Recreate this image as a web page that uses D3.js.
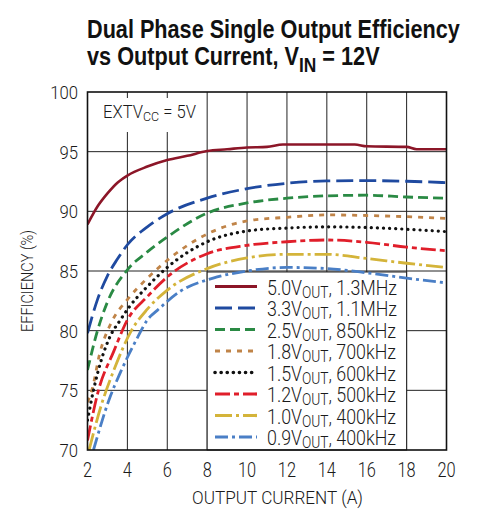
<!DOCTYPE html>
<html>
<head>
<meta charset="utf-8">
<script src="https://cdn.jsdelivr.net/npm/d3@7"></script>
<style>
  body { margin: 0; background: #fff; }
  svg { display: block; }
  text { font-family: Roboto, "Liberation Sans", Arial, sans-serif; fill: #1a1a1a; }
  text.title { font-family: "Liberation Sans", Arial, sans-serif; fill: #111; }
</style>
</head>
<body>
<svg id="chart" width="500" height="527"></svg>
<script>
/* global d3 */
// axis ticks
const xTicks = [2, 4, 6, 8, 10, 12, 14, 16, 18, 20]
const yTicks = [70, 75, 80, 85, 90, 95, 100]

// legend text
const legendVolts = ['5.0', '3.3', '2.5', '1.8', '1.5', '1.2', '1.0', '0.9']
const legendFreqs = ['1.3MHz', '1.1MHz', '850kHz', '700kHz', '600kHz', '500kHz', '400kHz', '400kHz']

// efficiency curves, [output current (A), efficiency (%)]
const eff5v0 = [[2, 88.9], [2.5, 90.4], [3, 91.5], [3.5, 92.4], [4, 93.0], [5, 93.75], [6, 94.3], [7, 94.65], [8, 95.05], [9, 95.2], [10, 95.35], [11, 95.4], [11.8, 95.6], [15.4, 95.6], [16, 95.45], [18, 95.4], [18.5, 95.2], [20, 95.2]]
const eff3v3 = [[2, 79.8], [2.5, 82.6], [3, 84.6], [3.5, 86.0], [4, 87.2], [5, 88.7], [6, 89.8], [8, 91.1], [10, 91.9], [12, 92.35], [14, 92.55], [16, 92.57], [18, 92.52], [20, 92.4]]
const eff2v5 = [[2, 76.7], [2.5, 80.0], [3, 82.4], [4, 85.1], [5, 86.6], [6, 87.85], [8, 89.85], [10, 90.7], [12, 91.1], [14, 91.3], [16, 91.35], [18, 91.2], [20, 91.1]]
const eff1v8 = [[2, 74.0], [2.25, 75.2], [2.6, 78.0], [3.2, 80.7], [4, 82.6], [5, 84.4], [6, 85.9], [8, 88.1], [10, 89.2], [12, 89.5], [14, 89.7], [16, 89.65], [18, 89.55], [20, 89.4]]
const eff1v5 = [[2, 72.5], [2.3, 75.0], [2.5, 76.4], [3.1, 79.4], [3.65, 80.9], [4.1, 82.0], [5, 83.7], [6, 85.3], [8, 87.45], [10, 88.35], [12, 88.6], [14, 88.7], [16, 88.65], [18, 88.5], [20, 88.3]]
const eff1v2 = [[2, 70.8], [2.55, 75.0], [3.3, 78.2], [4, 80.9], [5, 82.85], [6, 84.5], [8, 86.45], [10, 87.15], [12, 87.45], [14, 87.6], [16, 87.4], [18, 87.0], [20, 86.7]]
const eff1v0 = [[2.08, 70], [2.7, 73.8], [3.3, 76.6], [4.2, 80.0], [5, 81.8], [6, 83.4], [8, 85.2], [10, 86.1], [12, 86.4], [14, 86.4], [16, 86.05], [18, 85.65], [20, 85.3]]
const eff0v9 = [[2.3, 70], [3.1, 74.3], [3.65, 76.5], [4.5, 79.4], [5, 80.9], [5.5, 81.7], [6.65, 83.3], [8.3, 84.4], [10, 85.0], [12, 85.3], [14, 85.2], [16, 84.85], [18, 84.4], [20, 84.0]]

const seriesData = [eff5v0, eff3v3, eff2v5, eff1v8, eff1v5, eff1v2, eff1v0, eff0v9]

const styles = [
  { color: '#8c1628', dash: null, width: 2.6 },
  { color: '#1f4aa0', dash: '17 6', width: 2.8 },
  { color: '#2a8a44', dash: '10 5', width: 2.8 },
  { color: '#c08448', dash: '5 6', width: 2.8 },
  { color: '#111111', dash: '0.1 6', width: 3.2, cap: 'round' },
  { color: '#e01e2a', dash: '15 4 5 4', width: 2.8 },
  { color: '#d4b43a', dash: '17 4 3 4', width: 2.8 },
  { color: '#4a7fc6', dash: '13 4 3 4', width: 2.8 }
]

const svg = d3.select('#chart')
const x = d3.scaleLinear().domain([2, 20]).range([87.5, 446.5])
const y = d3.scaleLinear().domain([70, 100]).range([450, 92])

// text helper: parts are [string, isSubscript], squeezed horizontally to a width
function addText (parts, opts) {
  const size = opts.size
  const subSize = opts.subSize || 0.75
  const subShift = opts.subShift || 0.18
  const t = svg.append('text')
    .attr('class', opts.cls || null)
    .attr('font-size', size)
    .attr('font-weight', opts.weight || 300)
    .attr('text-anchor', opts.anchor || 'start')
  parts.forEach(([s, sub], i) => {
    const ts = t.append('tspan').text(s)
    if (sub) ts.attr('font-size', size * subSize).attr('dy', size * subShift)
    else if (i > 0 && parts[i - 1][1]) ts.attr('dy', -size * subShift)
  })
  const sx = opts.width ? opts.width / t.node().getBBox().width : (opts.scale || 0.82)
  t.attr('transform', `translate(${opts.x},${opts.y})${opts.rotate ? ' rotate(-90)' : ''} scale(${sx},1)`)
  return sx
}

// grid
svg.append('g')
  .selectAll('line')
  .data(xTicks.slice(1, -1))
  .join('line')
  .attr('x1', d => x(d)).attr('x2', d => x(d))
  .attr('y1', y(100)).attr('y2', y(70))
  .attr('stroke', '#222').attr('stroke-width', 1)

svg.append('g')
  .selectAll('line')
  .data(yTicks.slice(1, -1))
  .join('line')
  .attr('x1', x(2)).attr('x2', x(20))
  .attr('y1', d => y(d)).attr('y2', d => y(d))
  .attr('stroke', '#222').attr('stroke-width', 1)

// white patches behind the note and the legend
svg.append('rect')
  .attr('x', x(2) + 2).attr('y', 98)
  .attr('width', 112).attr('height', 34)
  .attr('fill', '#fff')

svg.append('rect')
  .attr('x', x(8)).attr('y', 272)
  .attr('width', x(18) - x(8)).attr('height', y(70) - 272)
  .attr('fill', '#fff').attr('stroke', '#222').attr('stroke-width', 1)

// curves
const line = d3.line()
  .x(d => x(d[0]))
  .y(d => y(d[1]))
  .curve(d3.curveMonotoneX)

const plotClip = svg.append('clipPath').attr('id', 'plot')
plotClip.append('rect').attr('x', x(2)).attr('y', y(100)).attr('width', x(20) - x(2)).attr('height', y(70) - y(100))

svg.append('g')
  .attr('clip-path', 'url(#plot)')
  .selectAll('path')
  .data(seriesData)
  .join('path')
  .attr('d', line)
  .attr('fill', 'none')
  .attr('stroke', (d, i) => styles[i].color)
  .attr('stroke-width', (d, i) => styles[i].width)
  .attr('stroke-dasharray', (d, i) => styles[i].dash)
  .attr('stroke-linecap', (d, i) => styles[i].cap || 'butt')

// frame
svg.append('rect')
  .attr('x', x(2)).attr('y', y(100))
  .attr('width', x(20) - x(2)).attr('height', y(70) - y(100))
  .attr('fill', 'none').attr('stroke', '#111').attr('stroke-width', 1.6)

// tick labels
xTicks.forEach(v => addText([[String(v), false]], { x: x(v), y: 477, size: 20, anchor: 'middle', scale: 0.82 }))
yTicks.forEach(v => addText([[String(v), false]], { x: 78, y: y(v) + 7, size: 19, anchor: 'end', scale: 0.88 }))

// axis titles
addText([['OUTPUT CURRENT (A)', false]], { x: 277.5, y: 504, size: 18, anchor: 'middle', width: 171 })
addText([['EFFICIENCY (%)', false]], { x: 33, y: 281, size: 17, anchor: 'middle', width: 102, rotate: true })

// title
addText([['Dual Phase Single Output Efficiency', false]], { x: 87, y: 38, size: 25, weight: 'bold', width: 373, cls: 'title' })
addText([['vs Output Current, V', false], ['IN', true], [' = 12V', false]],
  { x: 87, y: 65, size: 25, weight: 'bold', width: 293, cls: 'title', subSize: 0.8, subShift: 0.27 })

// note
addText([['EXTV', false], ['CC', true], [' = 5V', false]], { x: 103, y: 118, size: 18, width: 93, subSize: 0.75, subShift: 0.19 })

// legend
const rowY = d3.scaleLinear().domain([0, legendVolts.length - 1]).range([286.5, 437])
let legendScale = null
legendVolts.forEach((v, i) => {
  svg.append('line')
    .attr('x1', 215).attr('x2', 257)
    .attr('y1', rowY(i)).attr('y2', rowY(i))
    .attr('stroke', styles[i].color)
    .attr('stroke-width', styles[i].width + 0.4)
    .attr('stroke-dasharray', styles[i].dash)
    .attr('stroke-linecap', styles[i].cap || 'butt')
  const s = addText([[v + 'V', false], ['OUT', true], [', ' + legendFreqs[i], false]],
    { x: 267, y: rowY(i) + 8, size: 21, width: i === 0 ? 130 : null, scale: legendScale, subSize: 0.77, subShift: 0.16 })
  if (i === 0) legendScale = s
})
</script>
</body>
</html>
